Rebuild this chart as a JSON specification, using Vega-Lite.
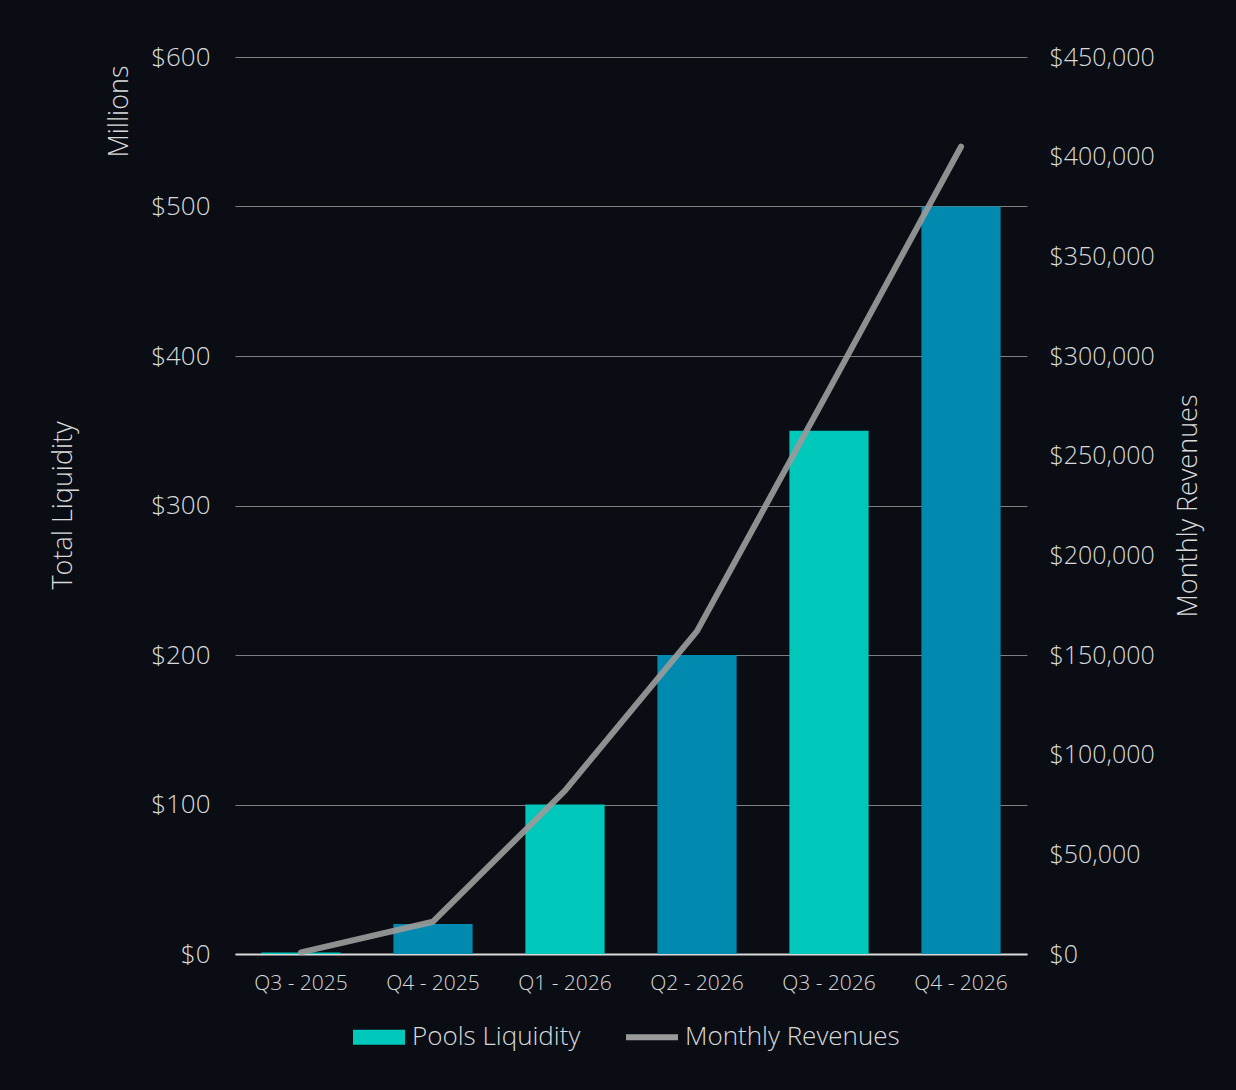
{
  "$schema": "https://vega.github.io/schema/vega-lite/v6.json",
  "autosize": {"type": "none"},
  "padding": {"left": 235, "top": 57, "right": 209, "bottom": 136},
  "width": 792,
  "height": 897,
  "background": "#0a0d14",
  "title": {"text": "Total Liquidity", "orient": "left", "anchor": "middle", "frame": "group", "offset": 28, "fontSize": 27, "fontWeight": 300, "color": "#d9d9d9", "font": "Open Sans"},
  "data": {"values": [
    {"quarter": "Q3 - 2025", "liquidity": 1, "revenue": 800, "shade": "teal", "series": "Monthly Revenues"},
    {"quarter": "Q4 - 2025", "liquidity": 20, "revenue": 16200, "shade": "blue", "series": "Monthly Revenues"},
    {"quarter": "Q1 - 2026", "liquidity": 100, "revenue": 82000, "shade": "teal", "series": "Monthly Revenues"},
    {"quarter": "Q2 - 2026", "liquidity": 200, "revenue": 162000, "shade": "blue", "series": "Monthly Revenues"},
    {"quarter": "Q3 - 2026", "liquidity": 350, "revenue": 283000, "shade": "teal", "series": "Monthly Revenues"},
    {"quarter": "Q4 - 2026", "liquidity": 500, "revenue": 405000, "shade": "blue", "series": "Monthly Revenues"}
  ]},
  "encoding": {
    "x": {"field": "quarter", "type": "nominal", "sort": null,
      "scale": {"paddingInner": 0.4, "paddingOuter": 0.2},
      "axis": {"title": null, "labelAngle": 0, "ticks": false, "labelPadding": 18, "labelFontSize": 21, "labelColor": "#d9d9d9", "labelFontWeight": 300, "domainColor": "#d9d9d9", "domainWidth": 2, "grid": false}}
  },
  "layer": [
    {
      "mark": {"type": "bar"},
      "encoding": {
        "y": {"field": "liquidity", "type": "quantitative", "scale": {"domain": [0, 600]},
          "axis": {"title": "Millions", "titleAnchor": "end", "titleY": 8, "titleFontSize": 27, "titleFontWeight": 300, "titleColor": "#d9d9d9", "titlePadding": 17,
            "values": [0, 100, 200, 300, 400, 500, 600], "format": "$,.0f", "labelFontSize": 26, "labelFontWeight": 300, "labelColor": "#d9d9d9", "labelPadding": 25, "ticks": false, "domain": false,
            "grid": true, "gridColor": "#7f7f7f", "gridWidth": 1}},
        "fill": {"field": "shade", "type": "nominal", "scale": {"domain": ["teal", "blue"], "range": ["#00c8bb", "#008ab0"]}, "legend": null}
      }
    },
    {
      "mark": {"type": "line", "strokeWidth": 6, "strokeCap": "round", "strokeJoin": "round", "opacity": 0.92},
      "encoding": {
        "y": {"field": "revenue", "type": "quantitative", "scale": {"domain": [0, 450000]},
          "axis": {"title": "Monthly Revenues", "orient": "right", "titleAngle": 270, "titleFontSize": 27, "titleFontWeight": 300, "titleColor": "#d9d9d9", "titlePadding": 48,
            "values": [0, 50000, 100000, 150000, 200000, 250000, 300000, 350000, 400000, 450000], "format": "$,.0f", "labelFontSize": 25, "labelFontWeight": 300, "labelColor": "#d9d9d9", "labelPadding": 22, "ticks": false, "domain": false, "grid": false}},
        "color": {"field": "series", "type": "nominal", "scale": {"domain": ["Pools Liquidity", "Monthly Revenues"], "range": ["#00c8bb", "#9a9a9a"]},
          "legend": {"title": null, "orient": "none", "legendX": 115, "legendY": 951, "direction": "horizontal", "labelFontSize": 26, "labelFontWeight": 300, "labelColor": "#d9d9d9", "labelOffset": 4, "labelLimit": 400, "columnPadding": 33, "symbolSize": 2704,
            "symbolType": {"expr": "datum.value === 'Pools Liquidity' ? 'M-0.885,-0.173H0.885V0.173H-0.885Z' : 'M-1,0H1M0,-0.173L0,-0.173M0,0.173L0,0.173'"},
            "symbolFillColor": {"expr": "datum.value === 'Pools Liquidity' ? '#00c8bb' : 'transparent'"},
            "symbolStrokeColor": {"expr": "datum.value === 'Pools Liquidity' ? '#00c8bb' : '#9a9a9a'"},
            "symbolStrokeWidth": 6,
            "symbolOpacity": 1}}
      }
    }
  ],
  "resolve": {"scale": {"y": "independent"}},
  "config": {"font": "Open Sans", "view": {"stroke": null}}
}
